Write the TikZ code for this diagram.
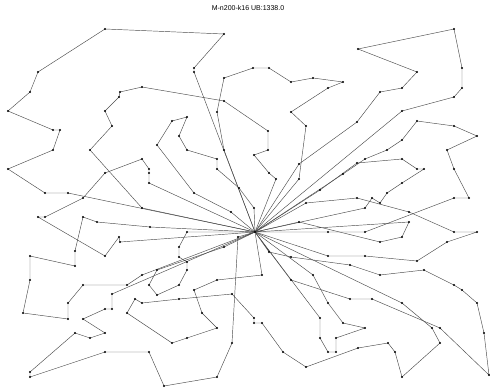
\documentclass[tikz,border=0pt]{standalone}
\usepackage{fontspec}
\setmainfont{Liberation Sans}
\begin{document}
\begin{tikzpicture}[x=1pt,y=-1pt,
  route/.style={draw=black!70,line width=0.45pt},
  dot/.style={fill=black}]
\useasboundingbox (0,0) rectangle (490,391);
\node[font=\fontsize{7}{8}\selectfont] (title) at (248,8) {M-n200-k16 UB:1338.0};
\coordinate (D) at (255,232);
% route A
\draw[route] (D) -- (194,72) -- (194,68) -- (224,34) -- (105,29) -- (38,72) -- (30,92) -- (8,111) -- (53,130) -- (60,130) -- (53,150) -- (8,169) -- (45,193) -- (68,193) -- (D);
% route B
\draw[route] (D) -- (142,208) -- (90,150) -- (112,126) -- (105,111) -- (119,97) -- (120,92) -- (142,87) -- (224,101) -- (268,131) -- (268,150) -- (254,155) -- (269,173) -- (276,179) -- (D);
% route C
\draw[route] (D) -- (149,183) -- (149,173) -- (149,169) -- (142,159) -- (105,173) -- (83,198) -- (45,217) -- (38,217) -- (105,256) -- (119,237) -- (120,242) -- (D);
% route D
\draw[route] (D) -- (150,227) -- (97,222) -- (83,217) -- (75,251) -- (75,266) -- (30,256) -- (30,280) -- (23,313) -- (68,319) -- (68,303) -- (83,285) -- (127,285) -- (142,275) -- (D);
% route E
\draw[route] (D) -- (224,150) -- (217,112) -- (224,78) -- (253,68) -- (269,68) -- (291,82) -- (313,78) -- (343,82) -- (328,88) -- (291,112) -- (306,126) -- (299,179) -- (D);
% route F
\draw[route] (D) -- (254,208) -- (239,188) -- (217,169) -- (217,159) -- (187,150) -- (179,136) -- (187,117) -- (172,121) -- (157,145) -- (194,193) -- (231,212) -- (D);
% route J
\draw[route] (D) -- (299,164) -- (357,122) -- (380,92) -- (402,88) -- (417,72) -- (358,49) -- (454,29) -- (462,68) -- (462,88) -- (454,97) -- (402,111) -- (D);
% route K
\draw[route] (D) -- (343,174) -- (365,159) -- (387,150) -- (402,140) -- (417,121) -- (454,126) -- (477,136) -- (447,150) -- (454,169) -- (469,198) -- (454,198) -- (365,232) -- (328,232) -- (D);
% route L
\draw[route] (D) -- (320,190) -- (357,163) -- (402,159) -- (417,169) -- (424,169) -- (402,183) -- (387,193) -- (380,203) -- (372,198) -- (365,208) -- (D);
% route M
\draw[route] (D) -- (306,203) -- (357,198) -- (409,212) -- (454,232) -- (477,232) -- (447,242) -- (417,261) -- (365,256) -- (328,256) -- (D);
\draw[route] (D) -- (299,222) -- (380,242) -- (402,237) -- (409,222) -- (D);
% route N
\draw[route] (D) -- (269,252) -- (291,257) -- (350,265) -- (380,275) -- (424,270) -- (454,285) -- (462,290) -- (477,303) -- (484,333) -- (489,375) -- (440,328) -- (372,299) -- (350,299) -- (291,280) -- (D);
% route O
\draw[route] (D) -- (262,275) -- (217,280) -- (194,290) -- (202,313) -- (217,328) -- (187,338) -- (172,343) -- (127,313) -- (135,299) -- (142,303) -- (179,299) -- (232,294) -- (254,318) -- (254,323) -- (262,323) -- (283,352) -- (306,367) -- (358,348) -- (388,343) -- (395,352) -- (402,377) -- (440,343) -- (432,328) -- (402,303) -- (D);
% route P
\draw[route] (D) -- (238,237) -- (232,343) -- (217,377) -- (164,386) -- (149,352) -- (105,352) -- (30,377) -- (30,372) -- (75,333) -- (90,338) -- (105,333) -- (83,319) -- (105,309) -- (112,309) -- (112,294) -- (D);
% route Q
\draw[route] (D) -- (187,232) -- (179,247) -- (179,257) -- (187,262) -- (187,270) -- (179,285) -- (157,295) -- (149,285) -- (157,270) -- (224,247) -- (D);
% route R
\draw[route] (D) -- (313,275) -- (328,303) -- (343,323) -- (365,328) -- (336,338) -- (336,352) -- (328,352) -- (320,338) -- (320,318) -- (D);
\foreach \p in {(D),(194,72),(194,68),(224,34),(105,29),(38,72),(30,92),(8,111),(53,130),(60,130),(53,150),(8,169),(45,193),(68,193),
(142,208),(90,150),(112,126),(105,111),(119,97),(120,92),(142,87),(224,101),(268,131),(268,150),(254,155),(269,173),(276,179),
(149,183),(149,173),(149,169),(142,159),(105,173),(83,198),(45,217),(38,217),(105,256),(119,237),(120,242),
(150,227),(97,222),(83,217),(75,251),(75,266),(30,256),(30,280),(23,313),(68,319),(68,303),(83,285),(127,285),(142,275),(157,270),(187,262),
(224,150),(217,112),(224,78),(253,68),(269,68),(291,82),(313,78),(343,82),(328,88),(291,112),(306,126),(299,179),
(254,208),(239,188),(217,169),(217,159),(187,150),(179,136),(187,117),(172,121),(157,145),(194,193),(231,212),
(299,164),(357,122),(380,92),(402,88),(417,72),(358,49),(454,29),(462,68),(462,88),(454,97),(402,111),
(343,174),(365,159),(387,150),(402,140),(417,121),(454,126),(477,136),(447,150),(454,169),(469,198),(454,198),(365,232),(328,232),
(320,190),(357,163),(402,159),(417,169),(424,169),(402,183),(387,193),(380,203),(372,198),(365,208),
(306,203),(357,198),(409,212),(454,232),(477,232),(447,242),(417,261),(365,256),(328,256),(299,222),(380,242),(402,237),(409,222),
(269,252),(291,257),(350,265),(380,275),(424,270),(454,285),(462,290),(477,303),(484,333),(489,375),(440,328),
(232,294),(254,318),(254,323),(262,323),(283,352),(306,367),(358,348),(388,343),(395,352),(402,377),(440,343),(432,328),(402,303),(372,299),(350,299),(291,280),(262,275),
(238,237),(232,343),(217,377),(164,386),(149,352),(105,352),(30,377),(30,372),(75,333),(90,338),(105,333),(83,319),(105,309),(112,309),(112,294),
(187,232),(179,247),(179,257),(187,270),(179,285),(157,295),(149,285),(224,247),(142,303),(135,299),(127,313),(172,343),(187,338),(217,328),(202,313),(194,290),(217,280),(179,299),
(313,275),(328,303),(343,323),(365,328),(336,338),(336,352),(328,352),(320,338),(320,318)}
  \fill[dot] \p circle (1.1pt);
\end{tikzpicture}
\end{document}
